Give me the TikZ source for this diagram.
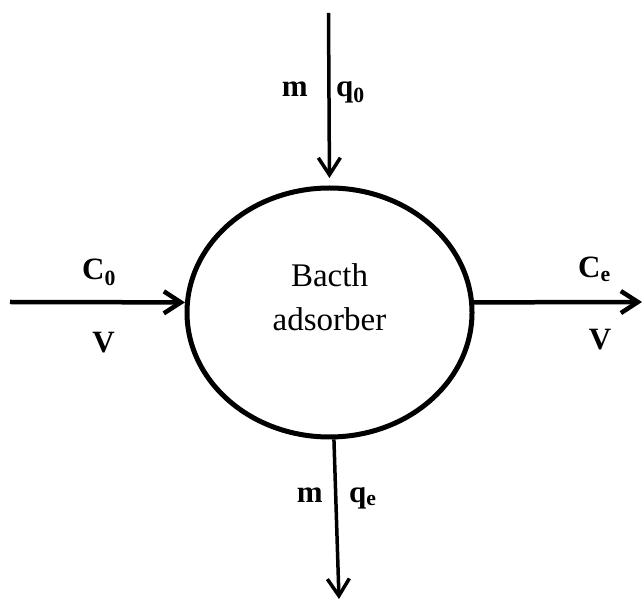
\documentclass[tikz,border=0pt]{standalone}
\usepackage{fontspec}
\setmainfont{Liberation Serif}
\usetikzlibrary{arrows.meta}
\usetikzlibrary{shapes.geometric}
\tikzset{reactor/.style={ellipse, draw, line width=5pt, inner sep=0pt, minimum width=285pt, minimum height=249pt}}
\tikzset{flow/.style={line width=4.5pt, -{Straight Barb[length=17pt, width=22pt]}}}
\tikzset{lbl/.style={font=\fontsize{31}{37}\selectfont\bfseries, inner sep=0pt}}

\begin{document}
\begin{tikzpicture}[x=1pt, y=1pt]
\useasboundingbox (0,0) rectangle (644,602);

\node[reactor] (reac) at (329.5,289.5) {};
\node[align=center, font=\fontsize{33}{44}\selectfont] (name) at (329.5,304.5) {Bacth\\adsorber};

\coordinate (in) at (10,300);
\coordinate (out) at (642,300);
\coordinate (top) at (328.5,589);
\coordinate (bot) at (339,3);

\draw[flow] (in) -- (reac.176);
\draw[flow] (reac.4) -- (out);
\draw[flow, line width=3.5pt, shorten >=7.5pt] (top) -- (reac.north);
\draw[flow, line width=3.5pt] (reac.-88) -- (bot);

\node[lbl, anchor=base east] (mtop) at (308,505) {m};
\node[lbl, anchor=base west] (qtop) at (336,505) {q\textsubscript{0}};

\node[lbl, anchor=base west] (cin) at (82,322) {C\textsubscript{0}};
\node[lbl, anchor=base] (vin) at (103.5,249) {V};

\node[lbl, anchor=base west] (cout) at (578,324) {C\textsubscript{e}};
\node[lbl, anchor=base] (vout) at (600,252) {V};

\node[lbl, anchor=base east] (mbot) at (323,100) {m};
\node[lbl, anchor=base west] (qbot) at (349,100) {q\textsubscript{e}};

%\draw[dotted] (0,0) rectangle (644,602);

\end{tikzpicture}
\end{document}
